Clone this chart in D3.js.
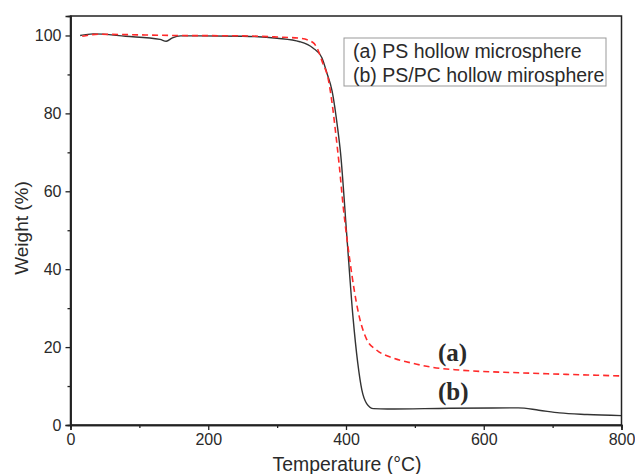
<!DOCTYPE html>
<html>
<head>
<meta charset="utf-8">
<script src="https://cdn.jsdelivr.net/npm/d3@7"></script>
<style>
body { margin: 0; background: #fff; }
text { font-family: "Liberation Sans", Arial, sans-serif; fill: #2a2a2a; }
</style>
</head>
<body>
<script>
// TGA curves, temperature (°C) vs weight (%)
var tempA = [17, 40, 150, 250, 300, 333, 352, 359, 366, 374, 381, 385, 390, 396, 405, 419, 430, 444, 468, 493, 526, 565, 652, 720, 800];
var weightA = [99.8, 100.3, 100, 99.9, 99.6, 99.3, 98.2, 96.4, 93, 89, 81, 75, 67, 56, 43, 28, 22, 19.3, 17.2, 16, 14.8, 14.1, 13.4, 13, 12.6];

var tempB = [14, 33, 80, 130, 139, 148, 160, 250, 300, 333, 352, 365, 372, 380, 388, 392, 401, 410, 417, 423, 430, 440, 460, 550, 650, 680, 710, 750, 800];
var weightB = [100, 100.4, 99.8, 99.0, 98.5, 99.4, 99.9, 99.8, 99.3, 98.4, 96.8, 94.3, 90.5, 85.6, 76, 70, 49, 28, 16, 9, 5.5, 4.2, 4.1, 4.3, 4.4, 3.8, 3.1, 2.7, 2.4];

var xTicks = [0, 200, 400, 600, 800];
var xMinor = [100, 300, 500, 700];
var yTicks = [0, 20, 40, 60, 80, 100];
var yMinor = [10, 30, 50, 70, 90];
var legendLabels = ["(a) PS hollow microsphere", "(b) PS/PC hollow mirosphere"];

function chart()
{
  var width = 635, height = 474,
    left = 70.5, right = 621.5, top = 16, bottom = 425;

  var svg = d3.select('body').append('svg').attr('width', width).attr('height', height);

  var x = d3.scaleLinear().domain([0, 800]).range([left, right]);
  var y = d3.scaleLinear().domain([0, 105]).range([bottom, top]);

  var dataA = tempA.map(function(t, i) { return [t, weightA[i]]; });
  var dataB = tempB.map(function(t, i) { return [t, weightB[i]]; });

  var line = d3.line()
    .x(function(d) { return x(d[0]); })
    .y(function(d) { return y(d[1]); })
    .curve(d3.curveMonotoneX);

  svg.append('path').datum(dataB).attr('d', line)
    .attr('fill', 'none').attr('stroke', '#333').attr('stroke-width', 1.4);
  svg.append('path').datum(dataA).attr('d', line)
    .attr('fill', 'none').attr('stroke', '#ff2a2a').attr('stroke-width', 1.6)
    .attr('stroke-dasharray', '6,4');

  // frame
  svg.append('rect').attr('x', left).attr('y', top).attr('width', right - left).attr('height', bottom - top)
    .attr('fill', 'none').attr('stroke', '#222').attr('stroke-width', 1.5);

  // axes
  svg.append('g').attr('transform', 'translate(0,' + bottom + ')')
    .call(d3.axisBottom(x).tickValues(xTicks).tickSize(5).tickPadding(4));
  svg.append('g').attr('transform', 'translate(0,' + bottom + ')')
    .call(d3.axisBottom(x).tickValues(xMinor).tickSize(3).tickFormat(''));
  svg.append('g').attr('transform', 'translate(' + left + ',0)')
    .call(d3.axisLeft(y).tickValues(yTicks).tickSize(5).tickPadding(4));
  svg.append('g').attr('transform', 'translate(' + left + ',0)')
    .call(d3.axisLeft(y).tickValues(yMinor).tickSize(3).tickFormat(''));

  svg.selectAll('.domain').attr('stroke', '#222').attr('stroke-width', 1.5);
  svg.selectAll('.tick line').attr('stroke', '#222').attr('stroke-width', 1.3);
  svg.selectAll('.tick text').style('font-family', '"Liberation Sans", Arial, sans-serif')
    .style('font-size', '16px').attr('fill', '#2a2a2a');

  // axis titles
  svg.append('text').attr('x', 347).attr('y', 471).attr('text-anchor', 'middle')
    .style('font-size', '19.4px').text('Temperature (°C)');
  svg.append('text').attr('transform', 'translate(28,228) rotate(-90)').attr('text-anchor', 'middle')
    .style('font-size', '19px').text('Weight (%)');

  // legend
  svg.append('rect').attr('x', 344).attr('y', 38).attr('width', 262).attr('height', 48)
    .attr('fill', 'none').attr('stroke', '#999').attr('stroke-width', 1);
  svg.selectAll('.leg').data(legendLabels).enter().append('text')
    .attr('x', 353).attr('y', function(d, i) { return 58 + i * 24; })
    .style('font-size', '19.5px').text(function(d) { return d; });

  // curve labels
  svg.append('text').attr('x', 438).attr('y', 361)
    .style('font-family', '"Liberation Serif", "Times New Roman", serif').style('font-weight', 'bold')
    .style('font-size', '25px').text('(a)');
  svg.append('text').attr('x', 438).attr('y', 400)
    .style('font-family', '"Liberation Serif", "Times New Roman", serif').style('font-weight', 'bold')
    .style('font-size', '25px').text('(b)');
}
chart();
</script>
</body>
</html>
